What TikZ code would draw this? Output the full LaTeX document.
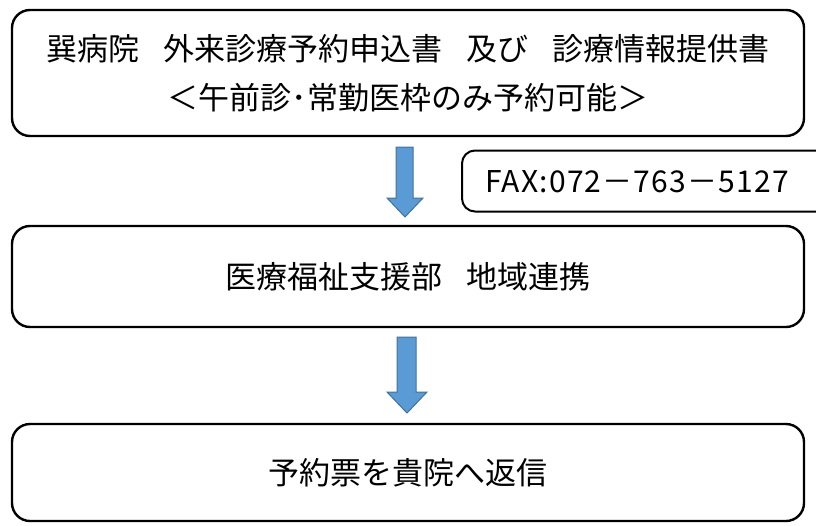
\documentclass[tikz,border=0pt]{standalone}
\usepackage{fontspec}
\setmainfont{Noto Sans CJK JP}
\newfontfamily\faxfont[LetterSpace=4]{Noto Sans CJK JP}
\usepackage{tikz}
\usepackage{xcolor}

\definecolor{arrowfill}{HTML}{5B9BD5}
\definecolor{arrowline}{HTML}{41719C}

\newcommand{\gap}{\hspace{24pt}}

\tikzset{
    stagebox/.style={draw, line width=2.4pt, rounded corners=18pt, minimum width=792pt, inner sep=0pt, align=center},
    faxbox/.style={draw, line width=2pt, rounded corners=13pt, minimum width=390pt, minimum height=61pt, inner sep=0pt},
    blockarrow/.style={fill=arrowfill, draw=arrowline, line width=1pt, line join=miter},
}

\begin{document}
\begin{tikzpicture}[x=1pt, y=-1pt, font=\fontsize{31}{49}\selectfont]
        \useasboundingbox (0,0) rectangle (816,525);
        \clip (0,0) rectangle (816,525);
        %\draw[gray] (0,0) grid[step=50] (816,525);

        \node[stagebox, minimum height=126pt] (apply) at (408,73)
            {巽病院\gap 外来診療予約申込書\gap 及び\gap 診療情報提供書\\＜午前診･常勤医枠のみ予約可能＞};
        \node[faxbox, anchor=west] (fax) at (461,181) {};
        \node[font=\faxfont\fontsize{30}{36}\selectfont] (faxno) at (637,182) {FAX:072－763－5127};
        \node[stagebox, minimum height=101pt] (liaison) at (408,276.5) {医療福祉支援部\gap 地域連携};
        \node[stagebox, minimum height=97pt] (reply) at (408,472.5) {予約票を貴院へ返信};

        % block arrows between the boxes
        \filldraw[blockarrow] (396,147) -- (413,147) -- (413,198) -- (423,198) -- (405,217)
            -- (387,198) -- (396,198) -- cycle;
        \filldraw[blockarrow] (397,337) -- (416,337) -- (416,392) -- (427,392) -- (407,413)
            -- (387,392) -- (397,392) -- cycle;
    \end{tikzpicture}
\end{document}
